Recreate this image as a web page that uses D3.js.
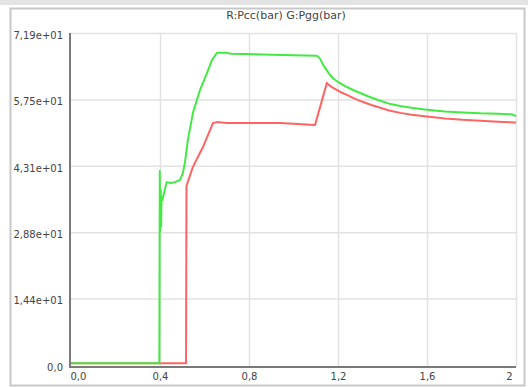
<!DOCTYPE html>
<html>
<head>
<meta charset="utf-8">
<script src="https://cdn.jsdelivr.net/npm/d3@7"></script>
<style>
  html, body { margin: 0; padding: 0; background: #fff; }
  svg { display: block; }
</style>
</head>
<body>
<script>
// ---- data ----
const title = "R:Pcc(bar) G:Pgg(bar)";
const xTicks = [0, 0.4, 0.8, 1.2, 1.6, 2];
const xTickLabels = ["0,0", "0,4", "0,8", "1,2", "1,6", "2"];
const yTicks = [0, 14.38, 28.76, 43.14, 57.52, 71.9];
const yTickLabels = ["0,0", "1,44e+01", "2,88e+01", "4,31e+01", "5,75e+01", "7,19e+01"];

// G: Pgg (green)
const greenX = [0, 0.397, 0.399, 0.401, 0.403, 0.405, 0.407, 0.41, 0.43, 0.45, 0.467, 0.49, 0.503, 0.512, 0.525, 0.548, 0.58, 0.611, 0.634, 0.656, 0.7, 0.72, 0.9, 1.105, 1.12, 1.133, 1.15, 1.164, 1.18, 1.2, 1.22, 1.24, 1.27, 1.3, 1.34, 1.38, 1.43, 1.48, 1.53, 1.6, 1.68, 1.76, 1.84, 1.92, 1.98, 2.0];
const greenY = [0.4, 0.4, 42.0, 29.0, 38.0, 30.0, 36.5, 35.7, 39.6, 39.4, 39.6, 40.1, 41.6, 43.8, 48.7, 54.6, 59.6, 63.2, 66.1, 67.6, 67.6, 67.4, 67.2, 67.0, 66.3, 65.0, 63.8, 62.8, 62.0, 61.3, 60.7, 60.2, 59.5, 58.9, 58.1, 57.4, 56.6, 56.1, 55.7, 55.3, 54.9, 54.7, 54.5, 54.4, 54.3, 53.9];

// R: Pcc (red)
const redX = [0, 0.517, 0.519, 0.548, 0.593, 0.638, 0.656, 0.7, 0.94, 1.097, 1.15, 1.16, 1.178, 1.2, 1.22, 1.24, 1.27, 1.31, 1.35, 1.39, 1.43, 1.48, 1.53, 1.6, 1.68, 1.76, 1.84, 1.92, 2.0];
const redY = [0.4, 0.4, 38.8, 42.9, 47.2, 52.4, 52.6, 52.4, 52.4, 52.0, 61.1, 60.6, 60.0, 59.4, 58.9, 58.5, 57.8, 57.0, 56.3, 55.7, 55.1, 54.6, 54.2, 53.8, 53.4, 53.1, 52.9, 52.7, 52.5];

// ---- drawing ----
const W = 528, H = 387;
const pL = 70, pR = 516, pT = 33, pB = 367;

const svg = d3.select("body").append("svg").attr("width", W).attr("height", H);

// outer panel
svg.append("rect").attr("x", 0).attr("y", 0).attr("width", W).attr("height", 5).attr("fill", "#e4e4e4");
svg.append("rect").attr("x", 10.5).attr("y", 8.5).attr("width", 514).attr("height", 377)
  .attr("fill", "#fff").attr("stroke", "#c8c8c8").attr("stroke-width", 2);

const x = d3.scaleLinear().domain([0, 2]).range([71, pR]);
const y = d3.scaleLinear().domain([0, 71.9]).range([365, pT]);

// grid
const gx = svg.append("g").attr("transform", `translate(0,${pB})`)
  .call(d3.axisBottom(x).tickValues(xTicks.slice(1)).tickSize(-(pB - pT)).tickFormat(""));
gx.select(".domain").remove();
gx.selectAll(".tick line").attr("stroke", "#e2e2e2").attr("stroke-width", 1.5);

const gy = svg.append("g").attr("transform", `translate(${pL},0)`)
  .call(d3.axisLeft(y).tickValues(yTicks.slice(1)).tickSize(-(pR - pL)).tickFormat(""));
gy.select(".domain").remove();
gy.selectAll(".tick line").attr("stroke", "#e2e2e2").attr("stroke-width", 1.5);

// axis lines
svg.append("line").attr("x1", pL).attr("x2", pL).attr("y1", pT).attr("y2", pB + 1)
  .attr("stroke", "#7a7a7a").attr("stroke-width", 2);
svg.append("line").attr("x1", pL).attr("x2", pR).attr("y1", pB).attr("y2", pB)
  .attr("stroke", "#7a7a7a").attr("stroke-width", 2);

// y labels
const ya = svg.append("g").attr("transform", `translate(${pL},2)`)
  .call(d3.axisLeft(y).tickValues(yTicks).tickSize(0).tickPadding(7)
    .tickFormat((d, i) => yTickLabels[i]));
ya.select(".domain").remove();
ya.selectAll("text").attr("font-family", "DejaVu Sans").attr("font-size", 10).attr("fill", "#444");

// x labels
const xa = svg.append("g").attr("transform", `translate(0,${pB})`)
  .call(d3.axisBottom(x).tickValues(xTicks).tickSize(0).tickPadding(6)
    .tickFormat((d, i) => xTickLabels[i]));
xa.select(".domain").remove();
xa.selectAll("text").attr("font-family", "DejaVu Sans").attr("font-size", 10).attr("fill", "#444")
  .attr("text-anchor", (d, i) => i === 0 ? "start" : (i === xTicks.length - 1 ? "end" : "middle"))
  .attr("dx", (d, i) => i === 0 ? -1 : (i === xTicks.length - 1 ? -4 : 0));

// title
svg.append("text").attr("x", 286).attr("y", 19).attr("text-anchor", "middle")
  .attr("font-family", "DejaVu Sans").attr("font-size", 11).attr("fill", "#444").text(title);

// lines
const line = d3.line().x(d => x(d[0])).y(d => y(d[1]));
const redData = redX.map((v, i) => [v, redY[i]]);
const greenData = greenX.map((v, i) => [v, greenY[i]]);

svg.append("path").datum(redData).attr("d", line).attr("fill", "none")
  .attr("stroke", "#ff6464").attr("stroke-width", 2).attr("stroke-linejoin", "round");
svg.append("path").datum(greenData).attr("d", line).attr("fill", "none")
  .attr("stroke", "#44ea44").attr("stroke-width", 2).attr("stroke-linejoin", "round");
</script>
</body>
</html>
